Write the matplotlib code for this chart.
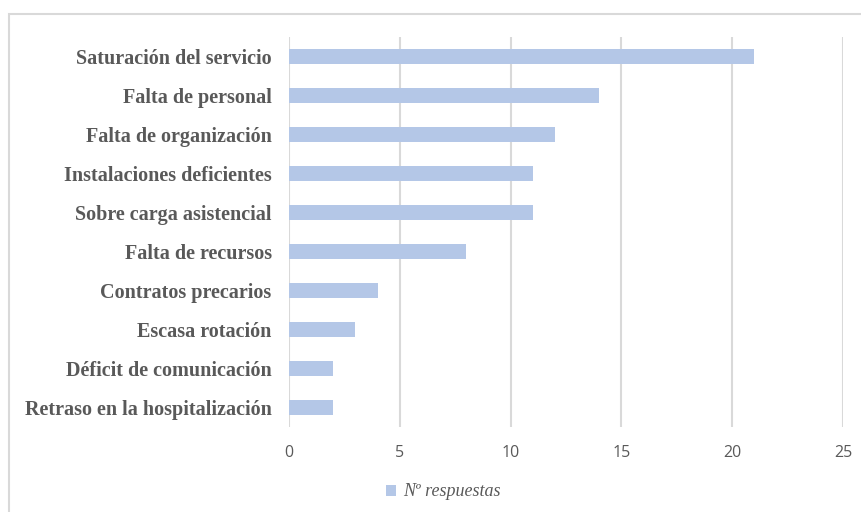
import matplotlib
matplotlib.use("Agg")
import matplotlib.pyplot as plt
from matplotlib.patches import Rectangle

categories = [
    "Saturación del servicio",
    "Falta de personal",
    "Falta de organización",
    "Instalaciones deficientes",
    "Sobre carga asistencial",
    "Falta de recursos",
    "Contratos precarios",
    "Escasa rotación",
    "Déficit de comunicación",
    "Retraso en la hospitalización",
]
respuestas = [21, 14, 12, 11, 11, 8, 4, 3, 2, 2]
x_ticks = [0, 5, 10, 15, 20, 25]
series_name = "Nº respuestas"

bar_color = "#B4C7E7"
grid_color = "#D9D9D9"
text_color = "#595959"

fig = plt.figure(figsize=(8.61, 5.12), dpi=100)
fig.patch.set_facecolor("white")

# outer chart frame
fig.patches.append(Rectangle((9 / 861, -0.1), 1.2, 1 - 14 / 512 + 0.1,
                             transform=fig.transFigure, fill=False,
                             edgecolor=grid_color, linewidth=1.5))

ax = fig.add_axes([289 / 861, 1 - 427 / 512, (843 - 289) / 861, (427 - 37) / 512])
y = list(range(len(categories)))
ax.barh(y, respuestas, height=0.37, color=bar_color, label=series_name, zorder=3)
ax.set_ylim(len(categories) - 0.5, -0.5)
ax.set_xlim(0, 25)
ax.set_xticks(x_ticks)
ax.set_xticklabels([str(t) for t in x_ticks], fontfamily="Open Sans",
                   fontsize=11.5, color=text_color)
ax.set_yticks(y)
ax.set_yticklabels(categories, fontfamily="Liberation Serif", fontweight="bold",
                   fontsize=14.5, color=text_color)
ax.tick_params(axis="both", length=0)
ax.tick_params(axis="x", pad=13)
ax.tick_params(axis="y", pad=12.5)
ax.grid(axis="x", color=grid_color, linewidth=1.5, zorder=0)
for s in ax.spines.values():
    s.set_visible(False)

leg = fig.legend(loc="center", bbox_to_anchor=(443 / 861, 1 - 492 / 512),
                 frameon=False, handlelength=0.55, handleheight=0.55,
                 handletextpad=0.4,
                 prop={"family": "Liberation Serif", "style": "italic", "size": 13})
for t in leg.get_texts():
    t.set_color(text_color)

fig.savefig("out.png", dpi=100, facecolor="white")
